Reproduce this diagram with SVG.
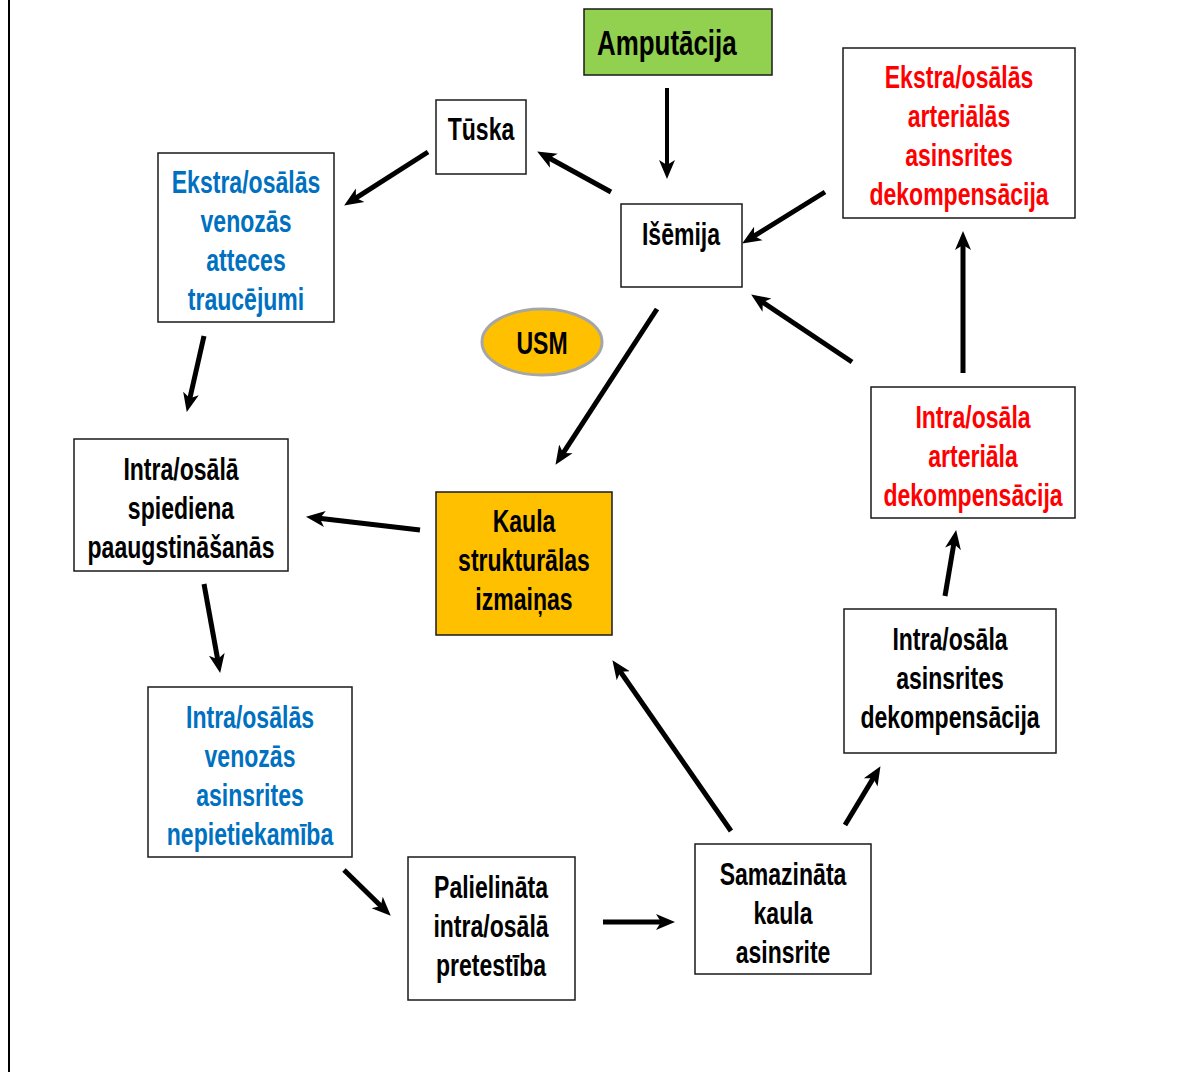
<svg xmlns="http://www.w3.org/2000/svg" width="1194" height="1072" viewBox="0 0 1194 1072">
<style>
text{font-family:"Liberation Sans",Arial,sans-serif;font-weight:bold;font-size:32px;text-anchor:middle;fill:#000}
.box{fill:#fff;stroke:#1a1a1a;stroke-width:1.5}
.blue{fill:#0070C0}
.red{fill:#FF0000}
.conn line{stroke:#000;stroke-width:5;marker-end:url(#ah)}
</style>
<defs>
<marker id="ah" markerUnits="userSpaceOnUse" markerWidth="24" markerHeight="20" refX="8" refY="8" orient="auto" viewBox="0 0 24 16">
<path d="M0,0 L19,8 L0,16 L5,8 Z" fill="#000"/>
</marker>
</defs>
<rect width="1194" height="1072" fill="#fff"/>
<line x1="9" y1="0" x2="9" y2="1072" stroke="#000" stroke-width="2"/>

<g class="conn" id="connectors">
<line x1="667" y1="88" x2="667" y2="168" style="stroke-width:4"/>
<line x1="611" y1="192" x2="546.8" y2="156.8"/>
<line x1="428" y1="152" x2="353.4" y2="199.6"/>
<line x1="825" y1="192" x2="751.5" y2="237.7"/>
<line x1="963" y1="373" x2="963" y2="242"/>
<line x1="852" y1="362" x2="760.3" y2="300.6"/>
<line x1="657" y1="309" x2="561.5" y2="455.6"/>
<line x1="204" y1="336" x2="189.2" y2="401.3"/>
<line x1="420" y1="530" x2="316.9" y2="518.1"/>
<line x1="204" y1="584" x2="218.2" y2="662.2"/>
<line x1="344" y1="870" x2="382.9" y2="908"/>
<line x1="603" y1="922" x2="664" y2="922"/>
<line x1="731" y1="831" x2="618.7" y2="669.2"/>
<line x1="845" y1="825" x2="874.8" y2="775.6"/>
<line x1="945" y1="596" x2="954.3" y2="540.9"/>
</g>

<g id="amputacija">
<rect x="584" y="9" width="188" height="66" fill="#92D050" stroke="#1a1a1a" stroke-width="1.5"/>
<g transform="translate(597 0) scale(0.72 1)"><text x="0" y="55" style="text-anchor:start;font-size:36px">Amputācija</text></g>
</g>
<g id="tuska">
<rect class="box" x="436" y="100" width="90" height="74"/>
<g transform="translate(481 0) scale(0.72 1)"><text x="0" y="140">Tūska</text></g>
</g>
<g id="ekstra-venozas">
<rect class="box" x="158" y="153" width="176" height="169"/>
<g transform="translate(246 0) scale(0.72 1)">
<text class="blue" x="0" y="193">Ekstra/osālās</text>
<text class="blue" x="0" y="232">venozās</text>
<text class="blue" x="0" y="271">atteces</text>
<text class="blue" x="0" y="310">traucējumi</text>
</g>
</g>
<g id="isemija">
<rect class="box" x="621" y="204" width="121" height="83"/>
<g transform="translate(681 0) scale(0.72 1)"><text x="0" y="245">Išēmija</text></g>
</g>
<g id="ekstra-arterialas">
<rect class="box" x="843" y="48" width="232" height="170"/>
<g transform="translate(959 0) scale(0.72 1)">
<text class="red" x="0" y="88">Ekstra/osālās</text>
<text class="red" x="0" y="127">arteriālās</text>
<text class="red" x="0" y="166">asinsrites</text>
<text class="red" x="0" y="205">dekompensācija</text>
</g>
</g>
<g id="usm">
<ellipse cx="542" cy="342" rx="60" ry="33" fill="#FFC000" stroke="#A6A6A6" stroke-width="3"/>
<g transform="translate(542 0) scale(0.72 1)"><text x="0" y="354">USM</text></g>
</g>
<g id="intra-spiediena">
<rect class="box" x="74" y="439" width="214" height="132"/>
<g transform="translate(181 0) scale(0.72 1)">
<text x="0" y="480">Intra/osālā</text>
<text x="0" y="519">spiediena</text>
<text x="0" y="558">paaugstināšanās</text>
</g>
</g>
<g id="kaula">
<rect x="436" y="492" width="176" height="143" fill="#FFC000" stroke="#1a1a1a" stroke-width="1.5"/>
<g transform="translate(524 0) scale(0.72 1)">
<text x="0" y="532">Kaula</text>
<text x="0" y="571">strukturālas</text>
<text x="0" y="610">izmaiņas</text>
</g>
</g>
<g id="intra-arteriala">
<rect class="box" x="871" y="387" width="204" height="131"/>
<g transform="translate(973 0) scale(0.72 1)">
<text class="red" x="0" y="428">Intra/osāla</text>
<text class="red" x="0" y="467">arteriāla</text>
<text class="red" x="0" y="506">dekompensācija</text>
</g>
</g>
<g id="intra-asinsrites">
<rect class="box" x="844" y="609" width="212" height="144"/>
<g transform="translate(950 0) scale(0.72 1)">
<text x="0" y="650">Intra/osāla</text>
<text x="0" y="689">asinsrites</text>
<text x="0" y="728">dekompensācija</text>
</g>
</g>
<g id="intra-venozas">
<rect class="box" x="148" y="687" width="204" height="170"/>
<g transform="translate(250 0) scale(0.72 1)">
<text class="blue" x="0" y="728">Intra/osālās</text>
<text class="blue" x="0" y="767">venozās</text>
<text class="blue" x="0" y="806">asinsrites</text>
<text class="blue" x="0" y="845">nepietiekamība</text>
</g>
</g>
<g id="palielinata">
<rect class="box" x="408" y="857" width="167" height="143"/>
<g transform="translate(491 0) scale(0.72 1)">
<text x="0" y="898">Palielināta</text>
<text x="0" y="937">intra/osālā</text>
<text x="0" y="976">pretestība</text>
</g>
</g>
<g id="samazinata">
<rect class="box" x="695" y="844" width="176" height="130"/>
<g transform="translate(783 0) scale(0.72 1)">
<text x="0" y="885">Samazināta</text>
<text x="0" y="924">kaula</text>
<text x="0" y="963">asinsrite</text>
</g>
</g>
</svg>
